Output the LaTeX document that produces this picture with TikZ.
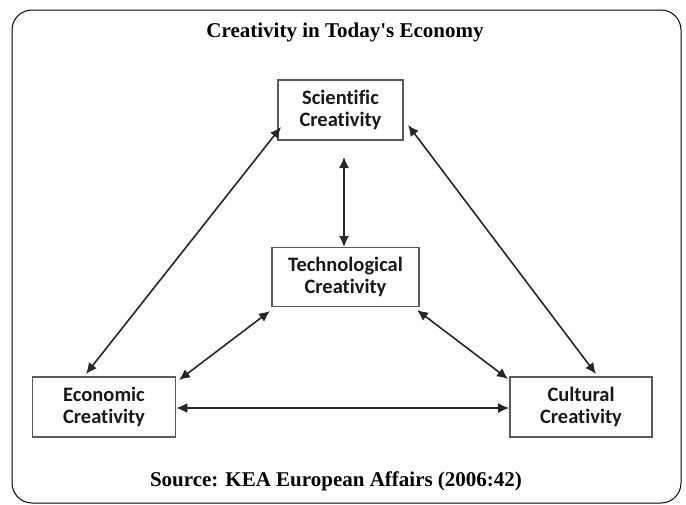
\documentclass[tikz,border=0pt]{standalone}
\usepackage{fontspec}
\setmainfont{Liberation Serif}
\newfontfamily\boxfont[Ligatures=NoCommon]{Carlito}
\usetikzlibrary{arrows.meta}
\begin{document}
\begin{tikzpicture}[x=1pt,y=-1pt,
  cbox/.style={draw=black!65,line width=1.6pt,font=\boxfont\bfseries\fontsize{20.5}{22.5}\selectfont,align=center,inner sep=0pt,text=black!90},
  link/.style={{Latex[length=11pt,width=10pt]}-{Latex[length=11pt,width=10pt]},line width=1.6pt,draw=black!85}]
\useasboundingbox (0,0) rectangle (686,504);
\draw[line width=1pt,rounded corners=20pt] (12,10) rectangle (681,503);
\node[font=\bfseries\fontsize{21}{24}\selectfont] (title) at (345,32) {Creativity in Today\textquotesingle s Economy};
\node[font=\bfseries\fontsize{21}{24}\selectfont] (src) at (336,481) {Source: KEA European Affairs (2006:42)};
\node[cbox,minimum width=125pt,minimum height=60pt] (sci) at (340.5,110) {Scientific\\Creativity};
\node[cbox,minimum width=147pt,minimum height=59pt] (tech) at (345.5,277) {Technological\\Creativity};
\node[cbox,minimum width=143pt,minimum height=60pt] (econ) at (104,407) {Economic\\Creativity};
\node[cbox,minimum width=142pt,minimum height=60pt] (cult) at (581,407) {Cultural\\Creativity};
\coordinate (s1) at (344,157);
\coordinate (t1) at (344,247);
\coordinate (e1) at (86,374);
\coordinate (e2) at (179,380);
\coordinate (s2) at (281,127);
\coordinate (s3) at (408,125);
\coordinate (c1) at (596,374);
\coordinate (c2) at (508,379);
\coordinate (t2) at (270,311);
\coordinate (t3) at (417,310);
\draw[link] (s1) -- (t1);
\draw[link] (e1) -- (s2);
\draw[link] (c1) -- (s3);
\draw[link] (e2) -- (t2);
\draw[link] (c2) -- (t3);
\draw[link] (econ.east |- 0,408) -- (cult.west |- 0,408);
\end{tikzpicture}
\end{document}
